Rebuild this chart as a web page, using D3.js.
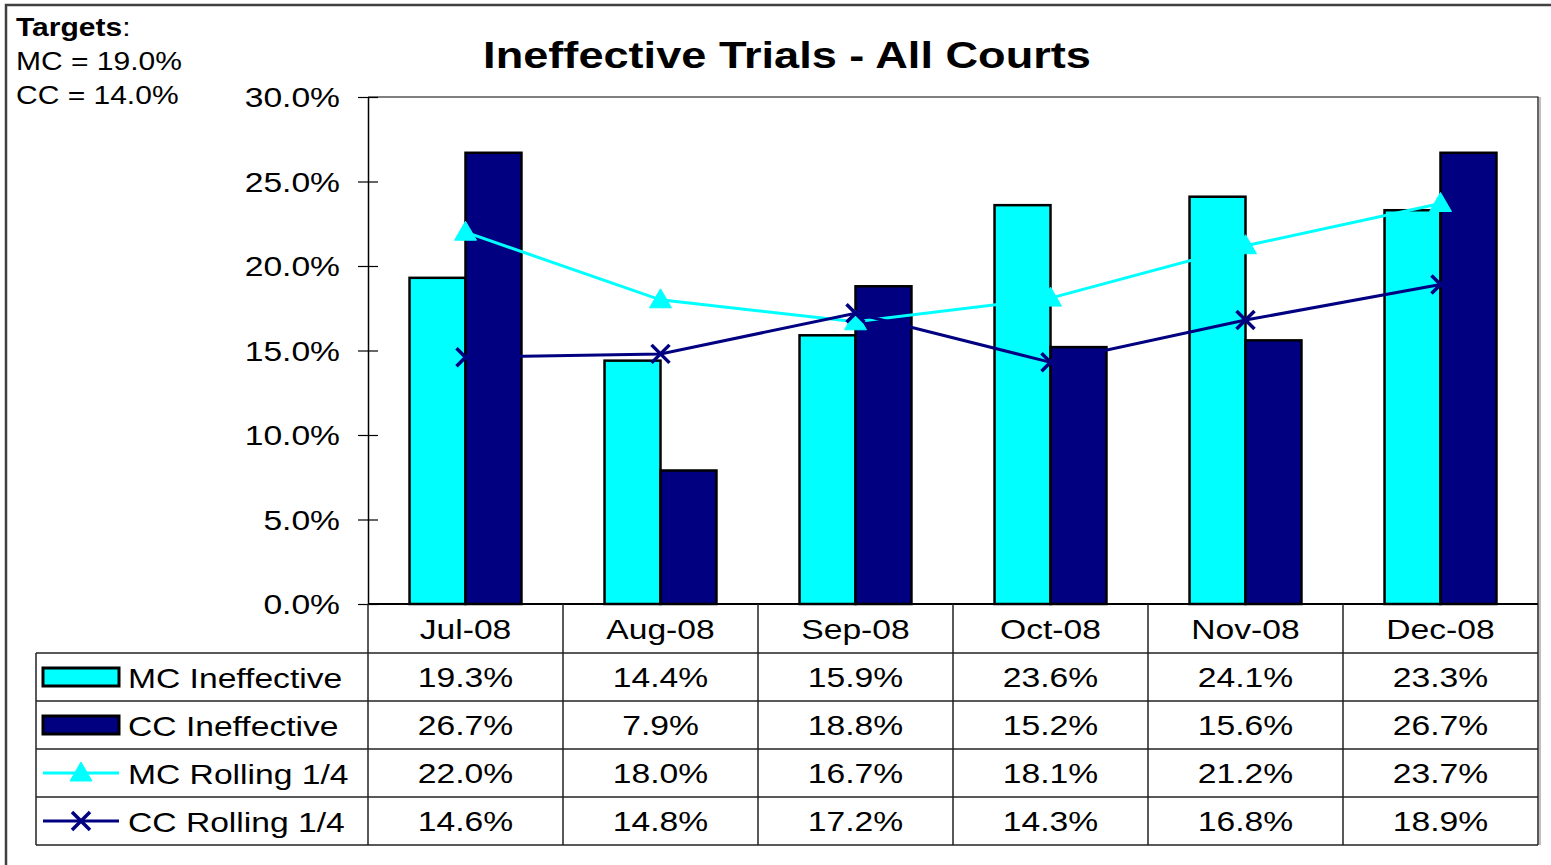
<!DOCTYPE html>
<html>
<head>
<meta charset="utf-8">
<script src="https://cdn.jsdelivr.net/npm/d3@7"></script>
<style>
  html, body { margin: 0; padding: 0; background: #fff; }
  svg { display: block; }
  text { font-family: "Liberation Sans", Arial, sans-serif; fill: #000; }
</style>
</head>
<body>
<script>
const categories = ["Jul-08", "Aug-08", "Sep-08", "Oct-08", "Nov-08", "Dec-08"];
const mcIneffective = [19.3, 14.4, 15.9, 23.6, 24.1, 23.3];
const ccIneffective = [26.7, 7.9, 18.8, 15.2, 15.6, 26.7];
const mcRolling = [22.0, 18.0, 16.7, 18.1, 21.2, 23.7];
const ccRolling = [14.6, 14.8, 17.2, 14.3, 16.8, 18.9];
const yTicks = [0, 5, 10, 15, 20, 25, 30];
const seriesNames = ["MC Ineffective", "CC Ineffective", "MC Rolling 1/4", "CC Rolling 1/4"];
const targetLines = ["MC = 19.0%", "CC = 14.0%"];

const W = 1551, H = 865;
const CYAN = "#00FFFF", NAVY = "#000080";
const plot = { left: 368, right: 1538, top: 97, bottom: 604 };
const rowH = 48;
const headerBottom = 653;
const tableLeft = 36;

const svg = d3.select("body").append("svg").attr("width", W).attr("height", H);

function sText(g, x, y, str, opts = {}) {
  const sx = opts.sx || 1.18;
  return g.append("text")
    .attr("transform", `translate(${x},${y}) scale(${sx},1)`)
    .attr("text-anchor", opts.anchor || "start")
    .style("font-size", (opts.size || 28.5) + "px")
    .style("font-weight", opts.weight || "normal")
    .text(str);
}

// outer border
svg.append("rect").attr("x", 6).attr("y", 5).attr("width", W + 10).attr("height", H + 10)
  .attr("fill", "none").attr("stroke", "#404040").attr("stroke-width", 2.5);

// scales
const x = d3.scaleBand().domain(categories).range([plot.left, plot.right]).padding(0);
const groupW = x.bandwidth() * 0.574;
const xi = d3.scaleBand().domain([0, 1]).range([(x.bandwidth() - groupW) / 2, (x.bandwidth() + groupW) / 2]).padding(0);
const y = d3.scaleLinear().domain([0, 30]).range([plot.bottom, plot.top]);

// plot frame (top and right)
svg.append("path")
  .attr("d", `M${plot.left},${plot.top}H${plot.right}V${plot.bottom}`)
  .attr("fill", "none").attr("stroke", "#000").attr("stroke-width", 1.2);
svg.append("line").attr("x1", plot.right + 2).attr("x2", plot.right + 2)
  .attr("y1", plot.top).attr("y2", 845).attr("stroke", "#aaa").attr("stroke-width", 1.5);

// y axis
const yAxis = svg.append("g").attr("transform", `translate(${plot.left},0)`)
  .call(d3.axisLeft(y).tickValues(yTicks).tickSizeInner(10).tickSizeOuter(0).tickFormat(""));
yAxis.select(".domain").attr("stroke", "#000").attr("stroke-width", 1.5);
yAxis.selectAll(".tick line").attr("x1", 10).attr("stroke", "#000").attr("stroke-width", 1.2);
yTicks.forEach(t => sText(svg, 340, y(t) + 10, d3.format(".1f")(t) + "%", { anchor: "end" }));

// bars
const barData = categories.map((c, i) => [
  { c, k: 0, v: mcIneffective[i], col: CYAN },
  { c, k: 1, v: ccIneffective[i], col: NAVY }
]).flat();
svg.append("g").selectAll("rect").data(barData).join("rect")
  .attr("x", d => x(d.c) + xi(d.k))
  .attr("y", d => y(d.v))
  .attr("width", xi.bandwidth())
  .attr("height", d => y(0) - y(d.v))
  .attr("fill", d => d.col)
  .attr("stroke", "#000").attr("stroke-width", 2.5);

// bottom axis line
svg.append("line").attr("x1", plot.left).attr("x2", plot.right)
  .attr("y1", plot.bottom).attr("y2", plot.bottom).attr("stroke", "#000").attr("stroke-width", 2);

// lines
const cx = c => x(c) + x.bandwidth() / 2;
const line = d3.line().x(d => cx(d[0])).y(d => y(d[1]));
svg.append("path").datum(categories.map((c, i) => [c, mcRolling[i]]))
  .attr("d", line).attr("fill", "none").attr("stroke", CYAN).attr("stroke-width", 3);
svg.append("path").datum(categories.map((c, i) => [c, ccRolling[i]]))
  .attr("d", line).attr("fill", "none").attr("stroke", NAVY).attr("stroke-width", 3);

const triPath = "M0,-11L11,8L-11,8Z";
const xPath = "M-9,-9L9,9M-9,9L9,-9";
svg.append("g").selectAll("path").data(categories.map((c, i) => [c, mcRolling[i]])).join("path")
  .attr("transform", d => `translate(${cx(d[0])},${y(d[1])})`)
  .attr("d", triPath).attr("fill", CYAN).attr("stroke", CYAN).attr("stroke-width", 1).attr("stroke-linejoin", "round");
svg.append("g").selectAll("path").data(categories.map((c, i) => [c, ccRolling[i]])).join("path")
  .attr("transform", d => `translate(${cx(d[0])},${y(d[1])})`)
  .attr("d", xPath).attr("fill", "none").attr("stroke", NAVY).attr("stroke-width", 3.5);

// data table
const tbl = svg.append("g");
const tableBottom = headerBottom + rowH * 4;
const bounds = categories.map(c => x(c)).concat([plot.right]);
tbl.selectAll("line.v").data(bounds).join("line")
  .attr("x1", d => d).attr("x2", d => d)
  .attr("y1", plot.bottom).attr("y2", tableBottom)
  .attr("stroke", "#222").attr("stroke-width", 1.5);
tbl.append("line").attr("x1", tableLeft).attr("x2", tableLeft)
  .attr("y1", headerBottom).attr("y2", tableBottom).attr("stroke", "#222").attr("stroke-width", 1.5);
d3.range(5).forEach(r => {
  tbl.append("line").attr("x1", tableLeft).attr("x2", plot.right)
    .attr("y1", headerBottom + r * rowH).attr("y2", headerBottom + r * rowH)
    .attr("stroke", "#222").attr("stroke-width", 1.5);
});
categories.forEach(c => sText(tbl, cx(c), (plot.bottom + headerBottom) / 2 + 10, c, { anchor: "middle" }));
const rows = [mcIneffective, ccIneffective, mcRolling, ccRolling];
rows.forEach((vals, r) => {
  const yc = headerBottom + r * rowH + rowH / 2;
  sText(tbl, 128, yc + 11, seriesNames[r]);
  vals.forEach((v, i) => sText(tbl, cx(categories[i]), yc + 10, d3.format(".1f")(v) + "%", { anchor: "middle" }));
  const kx0 = 43, kx1 = 119, kmid = (kx0 + kx1) / 2;
  if (r < 2) {
    tbl.append("rect").attr("x", kx0).attr("y", yc - 9).attr("width", kx1 - kx0).attr("height", 18)
      .attr("fill", r === 0 ? CYAN : NAVY).attr("stroke", "#000").attr("stroke-width", 3);
  } else {
    const col = r === 2 ? CYAN : NAVY;
    tbl.append("line").attr("x1", kx0).attr("x2", kx1).attr("y1", yc).attr("y2", yc)
      .attr("stroke", col).attr("stroke-width", 3);
    if (r === 2) {
      tbl.append("path").attr("transform", `translate(${kmid},${yc})`).attr("d", triPath)
        .attr("fill", CYAN).attr("stroke", CYAN).attr("stroke-width", 1);
    } else {
      tbl.append("path").attr("transform", `translate(${kmid},${yc})`).attr("d", xPath)
        .attr("fill", "none").attr("stroke", NAVY).attr("stroke-width", 3.5);
    }
  }
});

// title
sText(svg, 787, 68, "Ineffective Trials - All Courts", { anchor: "middle", size: 37, weight: "bold", sx: 1.22 });

// targets
const tg = svg.append("text")
  .attr("transform", `translate(16,36) scale(1.2,1)`)
  .style("font-size", "25px");
tg.append("tspan").style("font-weight", "bold").text("Targets");
tg.append("tspan").text(":");
targetLines.forEach((t, i) => sText(svg, 16, 70 + i * 34, t, { size: 25, sx: 1.2 }));
</script>
</body>
</html>
